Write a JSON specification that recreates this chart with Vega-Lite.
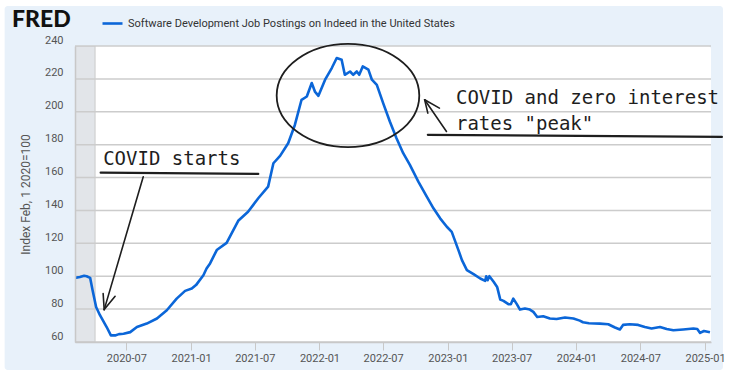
{
  "$schema": "https://vega.github.io/schema/vega-lite/v6.json",
  "width": 636,
  "height": 296,
  "autosize": {"type": "none"},
  "padding": {"left": 75, "top": 46, "right": 20, "bottom": 36},
  "background": "#ffffff",
  "title": {"text": "FRED", "anchor": "start", "frame": "group", "orient": "top", "font": "Lato", "fontSize": 23, "fontWeight": 900, "color": "#111111", "baseline": "alphabetic", "offset": 0, "dx": -63, "dy": 44},
  "datasets": {
    "series": [
      {"date": "2020-02-06", "value": 99.0}, {"date": "2020-02-20", "value": 99.5}, {"date": "2020-03-03", "value": 100.3}, {"date": "2020-03-10", "value": 100.0}, {"date": "2020-03-20", "value": 99.0}, {"date": "2020-03-27", "value": 91.5}, {"date": "2020-04-06", "value": 81.3}, {"date": "2020-04-17", "value": 76.3}, {"date": "2020-05-06", "value": 69.1}, {"date": "2020-05-18", "value": 64.0}, {"date": "2020-05-30", "value": 64.0}, {"date": "2020-06-10", "value": 64.8}, {"date": "2020-06-23", "value": 65.0}, {"date": "2020-07-12", "value": 66.0}, {"date": "2020-07-31", "value": 69.1}, {"date": "2020-08-28", "value": 71.2}, {"date": "2020-09-26", "value": 74.3}, {"date": "2020-10-24", "value": 79.3}, {"date": "2020-11-21", "value": 86.4}, {"date": "2020-12-15", "value": 91.1}, {"date": "2021-01-03", "value": 92.5}, {"date": "2021-01-15", "value": 94.6}, {"date": "2021-02-05", "value": 100.6}, {"date": "2021-02-14", "value": 104.7}, {"date": "2021-02-24", "value": 107.8}, {"date": "2021-03-15", "value": 115.9}, {"date": "2021-04-12", "value": 120.3}, {"date": "2021-05-15", "value": 133.7}, {"date": "2021-06-12", "value": 139.2}, {"date": "2021-07-11", "value": 147.4}, {"date": "2021-08-08", "value": 154.5}, {"date": "2021-08-23", "value": 168.7}, {"date": "2021-09-11", "value": 173.2}, {"date": "2021-10-04", "value": 180.9}, {"date": "2021-10-23", "value": 192.0}, {"date": "2021-11-11", "value": 207.3}, {"date": "2021-11-26", "value": 209.3}, {"date": "2021-12-10", "value": 217.5}, {"date": "2021-12-19", "value": 212.3}, {"date": "2021-12-29", "value": 209.7}, {"date": "2022-01-17", "value": 219.5}, {"date": "2022-02-05", "value": 226.6}, {"date": "2022-02-19", "value": 232.7}, {"date": "2022-03-05", "value": 231.7}, {"date": "2022-03-14", "value": 222.5}, {"date": "2022-03-29", "value": 224.5}, {"date": "2022-04-07", "value": 222.5}, {"date": "2022-04-17", "value": 224.5}, {"date": "2022-04-24", "value": 222.5}, {"date": "2022-05-04", "value": 227.6}, {"date": "2022-05-20", "value": 225.6}, {"date": "2022-05-30", "value": 219.5}, {"date": "2022-06-13", "value": 216.4}, {"date": "2022-07-01", "value": 205.3}, {"date": "2022-07-20", "value": 194.1}, {"date": "2022-08-08", "value": 183.9}, {"date": "2022-08-27", "value": 174.8}, {"date": "2022-09-15", "value": 167.7}, {"date": "2022-10-09", "value": 157.5}, {"date": "2022-11-02", "value": 148.4}, {"date": "2022-11-21", "value": 141.3}, {"date": "2022-12-10", "value": 135.2}, {"date": "2022-12-29", "value": 130.1}, {"date": "2023-01-12", "value": 127.0}, {"date": "2023-01-31", "value": 115.9}, {"date": "2023-02-10", "value": 109.8}, {"date": "2023-02-24", "value": 103.7}, {"date": "2023-03-15", "value": 101.3}, {"date": "2023-04-03", "value": 98.6}, {"date": "2023-04-17", "value": 97.2}, {"date": "2023-04-20", "value": 100.0}, {"date": "2023-04-24", "value": 97.6}, {"date": "2023-04-29", "value": 100.0}, {"date": "2023-05-11", "value": 96.6}, {"date": "2023-05-21", "value": 93.5}, {"date": "2023-05-30", "value": 85.8}, {"date": "2023-06-08", "value": 85.0}, {"date": "2023-06-22", "value": 83.0}, {"date": "2023-06-29", "value": 83.0}, {"date": "2023-07-06", "value": 86.4}, {"date": "2023-07-16", "value": 83.0}, {"date": "2023-07-25", "value": 79.7}, {"date": "2023-08-08", "value": 80.4}, {"date": "2023-08-22", "value": 79.7}, {"date": "2023-09-01", "value": 78.3}, {"date": "2023-09-12", "value": 75.2}, {"date": "2023-09-29", "value": 75.7}, {"date": "2023-10-18", "value": 74.3}, {"date": "2023-11-06", "value": 74.0}, {"date": "2023-11-30", "value": 74.9}, {"date": "2023-12-24", "value": 74.3}, {"date": "2024-01-11", "value": 73.0}, {"date": "2024-01-20", "value": 72.0}, {"date": "2024-02-06", "value": 71.4}, {"date": "2024-03-08", "value": 71.2}, {"date": "2024-04-01", "value": 70.8}, {"date": "2024-04-20", "value": 68.8}, {"date": "2024-05-04", "value": 67.6}, {"date": "2024-05-13", "value": 70.4}, {"date": "2024-06-01", "value": 70.8}, {"date": "2024-06-25", "value": 70.4}, {"date": "2024-07-14", "value": 69.1}, {"date": "2024-08-02", "value": 68.2}, {"date": "2024-08-26", "value": 69.1}, {"date": "2024-09-14", "value": 67.9}, {"date": "2024-10-03", "value": 67.1}, {"date": "2024-10-31", "value": 67.6}, {"date": "2024-11-29", "value": 68.2}, {"date": "2024-12-10", "value": 67.9}, {"date": "2024-12-18", "value": 65.5}, {"date": "2024-12-29", "value": 66.7}, {"date": "2025-01-15", "value": 65.9}
    ],
    "panels": [
      {"x": "2019-07-21", "x2": "2025-02-21", "y": 264.3, "y2": 43.0, "part": "frame"},
      {"x": "2020-02-06", "x2": "2025-01-18", "y": 240, "y2": 60, "part": "plot"}
    ],
    "gridlines": [{"v": 60}, {"v": 80}, {"v": 100}, {"v": 120}, {"v": 140}, {"v": 160}, {"v": 180}, {"v": 200}, {"v": 220}, {"v": 240}],
    "recession": [{"start": "2020-02-01", "end": "2020-04-03"}],
    "strokes": [
      {"x": "2020-04-19", "y": 163.0, "x2": "2021-07-11", "y2": 162.2, "kind": "underline"},
      {"x": "2020-08-18", "y": 160.5, "x2": "2020-04-29", "y2": 79.7, "kind": "arrow"},
      {"x": "2020-04-29", "y": 79.7, "x2": "2020-04-26", "y2": 89.5, "kind": "arrow"},
      {"x": "2020-04-29", "y": 79.7, "x2": "2020-05-30", "y2": 87.8, "kind": "arrow"},
      {"x": "2022-11-05", "y": 186.0, "x2": "2025-02-18", "y2": 184.7, "kind": "underline"},
      {"x": "2022-12-28", "y": 188.0, "x2": "2022-10-27", "y2": 207.3, "kind": "arrow"},
      {"x": "2022-10-27", "y": 207.3, "x2": "2022-12-08", "y2": 202.2, "kind": "arrow"},
      {"x": "2022-10-27", "y": 207.3, "x2": "2022-11-05", "y2": 199.2, "kind": "arrow"}
    ],
    "notes": [
      {"date": "2020-04-26", "value": 167.7, "label": "COVID starts"},
      {"date": "2023-01-24", "value": 204.8, "label": "COVID and zero interest"},
      {"date": "2023-01-24", "value": 189.0, "label": "rates \"peak\""}
    ],
    "circle": [{"date": "2022-03-23", "value": 209.9}]
  },
  "layer": [
    {
      "data": {"name": "panels"},
      "mark": {"type": "rect", "clip": false, "cornerRadius": 3},
      "encoding": {
        "x": {"field": "x", "type": "temporal", "title": null,
              "scale": {"domain": [{"year": 2020, "month": 2, "date": 6}, {"year": 2025, "month": 1, "date": 18}]},
              "axis": {"zindex": 2, "format": "%Y-%m", "tickCount": 20, "labelFlush": false, "labelOverlap": false, "grid": false, "domain": true, "domainColor": "#c8c8c8", "domainWidth": 1.5, "ticks": true, "tickColor": "#c8c8c8", "tickSize": 8, "tickWidth": 1, "labelFont": "Roboto", "labelFontSize": 11, "labelColor": "#555555", "labelPadding": 2,
                       "values": [{"year": 2020, "month": 7, "date": 1}, {"year": 2021, "month": 1, "date": 1}, {"year": 2021, "month": 7, "date": 1}, {"year": 2022, "month": 1, "date": 1}, {"year": 2022, "month": 7, "date": 1}, {"year": 2023, "month": 1, "date": 1}, {"year": 2023, "month": 7, "date": 1}, {"year": 2024, "month": 1, "date": 1}, {"year": 2024, "month": 7, "date": 1}, {"year": 2025, "month": 1, "date": 1}]}},
        "x2": {"field": "x2"},
        "y": {"field": "y", "type": "quantitative", "title": "Index Feb, 1 2020=100",
              "scale": {"domain": [60, 240], "nice": false, "zero": false},
              "axis": {"zindex": 2, "tickCount": 20, "values": [60, 80, 100, 120, 140, 160, 180, 200, 220, 240], "labelOverlap": false, "grid": false, "domain": true, "domainColor": "#c8c8c8", "domainWidth": 1.5, "ticks": false, "labelFont": "Roboto", "labelFontSize": 11, "labelColor": "#555555", "labelPadding": 12, "labelOffset": -6, "titleFont": "Roboto", "titleFontSize": 12, "titleFontWeight": "normal", "titleColor": "#555555", "titlePadding": 12}},
        "y2": {"field": "y2"},
        "fill": {"field": "part", "type": "nominal", "scale": {"domain": ["frame", "plot"], "range": ["#e8f1fa", "#ffffff"]}, "legend": null}
      }
    },
    {
      "data": {"name": "recession"},
      "mark": {"type": "rect", "fill": "#e2e5e9", "stroke": "#c9c9c9", "strokeWidth": 1, "clip": true},
      "encoding": {
        "x": {"field": "start", "type": "temporal"},
        "x2": {"field": "end"}
      }
    },
    {
      "data": {"name": "gridlines"},
      "mark": {"type": "rule", "color": "#cccccc", "strokeWidth": 1.5},
      "encoding": {
        "y": {"field": "v", "type": "quantitative"}
      }
    },
    {
      "data": {"name": "series"},
      "mark": {"type": "line", "strokeWidth": 2.6, "clip": true, "strokeJoin": "round"},
      "encoding": {
        "x": {"field": "date", "type": "temporal"},
        "y": {"field": "value", "type": "quantitative"},
        "color": {"datum": "Software Development Job Postings on Indeed in the United States", "type": "nominal",
                  "scale": {"range": ["#0b66d8"]},
                  "legend": {"orient": "none", "legendX": 26, "legendY": -34, "title": null, "symbolType": "stroke", "symbolSize": 400, "symbolStrokeWidth": 2.6, "labelFont": "Roboto", "labelFontSize": 11, "labelColor": "#333333", "labelOffset": 4, "labelLimit": 500, "padding": 0}}
      }
    },
    {
      "data": {"name": "circle"},
      "mark": {"type": "point", "shape": "M-1,0A1,0.725,0,1,1,1,0A1,0.725,0,1,1,-1,0Z", "size": 20335, "filled": false, "color": "#1e1e1e", "strokeWidth": 1.8, "opacity": 1, "clip": false},
      "encoding": {
        "x": {"field": "date", "type": "temporal"},
        "y": {"field": "value", "type": "quantitative"}
      }
    },
    {
      "data": {"name": "strokes"},
      "mark": {"type": "rule", "color": "#1e1e1e", "strokeCap": "round", "clip": false},
      "encoding": {
        "x": {"field": "x", "type": "temporal"},
        "y": {"field": "y", "type": "quantitative"},
        "x2": {"field": "x2"},
        "y2": {"field": "y2"},
        "strokeWidth": {"field": "kind", "type": "nominal", "scale": {"domain": ["underline", "arrow"], "range": [2.2, 1.6]}, "legend": null}
      }
    },
    {
      "data": {"name": "notes"},
      "mark": {"type": "text", "align": "left", "baseline": "alphabetic", "font": "DejaVu Sans Mono", "fontSize": 19, "color": "#1e1e1e", "clip": false},
      "encoding": {
        "x": {"field": "date", "type": "temporal"},
        "y": {"field": "value", "type": "quantitative"},
        "text": {"field": "label"}
      }
    }
  ],
  "config": {
    "view": {"fill": "#ffffff", "stroke": null},
    "font": "Roboto",
    "axisX": {"labelOverlap": false},
    "axisY": {"labelOverlap": false}
  }
}
